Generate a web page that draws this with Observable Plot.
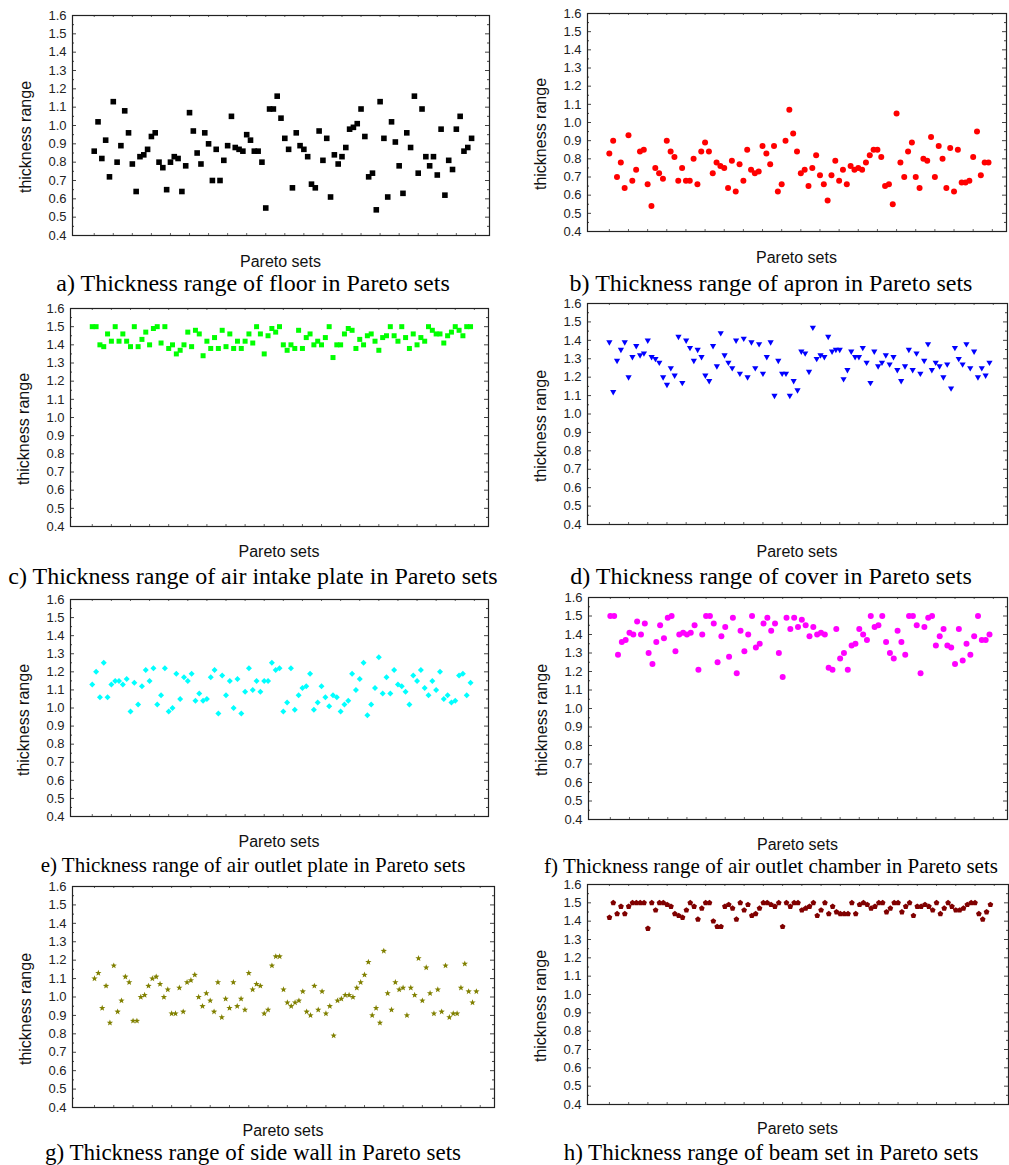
<!DOCTYPE html>
<html>
<head>
<meta charset="utf-8">
<script src="https://cdn.jsdelivr.net/npm/d3@7"></script>
<script src="https://cdn.jsdelivr.net/npm/@observablehq/plot@0.6"></script>
<style>
  body { margin: 0; background: #fff; }
  #root { position: relative; width: 1009px; height: 1165px; overflow: hidden; background: #fff; }
  .lbl { position: absolute; font-family: Arial, "Liberation Sans", sans-serif; color: #111; white-space: nowrap; line-height: 1; }
  .cap { position: absolute; font-family: "Times New Roman", "Liberation Serif", serif; color: #000; white-space: nowrap; line-height: 1; }
</style>
</head>
<body>
<div id="root"></div>
<script>
// ---------------- data ----------------
const floorValues = [0.86,1.02,0.82,0.92,0.72,1.13,0.80,0.89,1.08,0.96,
  0.79,0.64,0.83,0.84,0.87,0.94,0.96,0.80,0.77,0.65,
  0.80,0.83,0.82,0.64,0.78,1.07,0.97,0.85,0.79,0.96,
  0.90,0.70,0.87,0.70,0.81,0.89,1.05,0.88,0.87,0.86,
  0.95,0.92,0.86,0.86,0.80,0.55,1.09,1.09,1.16,1.04,
  0.93,0.87,0.66,0.96,0.89,0.87,0.83,0.68,0.66,0.97,
  0.81,0.93,0.61,0.84,0.79,0.83,0.88,0.98,0.99,1.01,
  1.09,0.94,0.72,0.74,0.54,1.13,0.93,0.61,1.02,0.91,
  0.78,0.63,0.96,0.88,1.16,0.74,1.09,0.83,0.78,0.83,
  0.73,0.98,0.62,0.81,0.76,0.98,1.05,0.86,0.88,0.93];

const apronValues = [0.83,0.90,0.70,0.78,0.64,0.93,0.68,0.74,0.84,0.85,
  0.66,0.54,0.75,0.72,0.69,0.90,0.84,0.81,0.68,0.75,
  0.68,0.68,0.80,0.66,0.84,0.89,0.84,0.72,0.78,0.76,
  0.75,0.64,0.79,0.62,0.77,0.68,0.85,0.74,0.72,0.73,
  0.87,0.83,0.77,0.87,0.62,0.66,0.90,1.07,0.94,0.84,
  0.72,0.74,0.65,0.75,0.82,0.71,0.66,0.57,0.71,0.79,
  0.68,0.74,0.66,0.76,0.74,0.75,0.74,0.78,0.82,0.85,
  0.85,0.81,0.65,0.66,0.55,1.05,0.78,0.70,0.84,0.89,
  0.70,0.64,0.80,0.79,0.92,0.70,0.87,0.80,0.64,0.86,
  0.62,0.85,0.67,0.67,0.68,0.81,0.95,0.71,0.78,0.78];

const intakePlateValues = [1.50,1.50,1.40,1.39,1.46,1.42,1.50,1.42,1.46,1.42,
  1.39,1.50,1.39,1.43,1.47,1.40,1.49,1.50,1.41,1.50,
  1.38,1.40,1.35,1.37,1.40,1.47,1.39,1.48,1.46,1.34,
  1.42,1.38,1.44,1.38,1.48,1.39,1.46,1.38,1.42,1.38,
  1.42,1.46,1.41,1.50,1.46,1.35,1.45,1.49,1.47,1.50,
  1.40,1.37,1.40,1.38,1.48,1.38,1.44,1.46,1.40,1.42,
  1.40,1.44,1.50,1.33,1.40,1.40,1.46,1.49,1.48,1.38,
  1.43,1.40,1.45,1.46,1.42,1.37,1.44,1.45,1.50,1.45,
  1.42,1.50,1.44,1.38,1.46,1.40,1.44,1.42,1.50,1.48,
  1.46,1.46,1.41,1.45,1.47,1.50,1.48,1.45,1.50,1.50];

const coverValues = [1.39,1.12,1.29,1.35,1.39,1.20,1.31,1.37,1.32,1.33,
  1.40,1.31,1.30,1.28,1.20,1.16,1.25,1.21,1.42,1.17,
  1.40,1.36,1.29,1.35,1.31,1.21,1.18,1.37,1.26,1.44,
  1.32,1.28,1.25,1.40,1.22,1.41,1.20,1.39,1.25,1.38,
  1.22,1.31,1.39,1.10,1.29,1.22,1.22,1.10,1.18,1.13,
  1.34,1.33,1.23,1.47,1.30,1.32,1.31,1.42,1.34,1.35,
  1.35,1.19,1.24,1.34,1.31,1.31,1.36,1.28,1.17,1.34,
  1.26,1.28,1.32,1.27,1.31,1.24,1.18,1.26,1.35,1.24,
  1.33,1.22,1.29,1.38,1.24,1.28,1.26,1.20,1.27,1.14,
  1.36,1.30,1.27,1.38,1.25,1.34,1.20,1.25,1.21,1.28];

const outletPlateValues = [1.13,1.20,1.06,1.25,1.06,1.13,1.15,1.15,1.13,1.16,
  0.98,1.14,1.02,1.12,1.21,1.15,1.22,1.02,1.07,1.22,
  0.98,1.00,1.19,1.05,1.17,1.15,1.19,1.04,1.08,1.04,
  1.05,1.17,1.21,0.97,1.18,1.07,1.15,1.00,1.16,0.97,
  1.09,1.22,1.10,1.15,1.09,1.15,1.15,1.25,1.21,1.22,
  0.98,1.03,1.22,0.99,1.07,1.11,1.12,1.19,0.99,1.03,
  1.12,1.06,1.01,1.07,1.06,0.98,1.02,1.04,1.19,1.10,
  1.16,1.25,0.96,1.02,1.11,1.28,1.08,1.17,1.08,1.21,
  1.13,1.12,1.09,1.02,1.18,1.15,1.21,1.11,1.07,1.15,
  1.10,1.20,1.05,1.07,1.03,1.04,1.18,1.19,1.07,1.14];

const outletChamberValues = [1.50,1.50,1.29,1.36,1.37,1.41,1.40,1.47,1.40,1.46,
  1.30,1.24,1.36,1.45,1.38,1.49,1.50,1.31,1.40,1.41,
  1.40,1.41,1.45,1.21,1.40,1.50,1.50,1.46,1.25,1.39,
  1.44,1.28,1.49,1.19,1.42,1.31,1.40,1.50,1.33,1.35,
  1.46,1.49,1.42,1.46,1.30,1.17,1.49,1.43,1.49,1.44,
  1.48,1.45,1.39,1.44,1.40,1.41,1.40,1.22,1.21,1.43,
  1.27,1.30,1.21,1.34,1.35,1.43,1.40,1.37,1.50,1.44,
  1.45,1.50,1.36,1.30,1.27,1.42,1.36,1.29,1.50,1.50,
  1.45,1.19,1.44,1.49,1.50,1.34,1.39,1.43,1.34,1.33,
  1.24,1.43,1.26,1.35,1.29,1.39,1.50,1.37,1.37,1.40];

const sideWallValues = [1.10,1.13,0.94,1.06,0.86,1.17,0.92,0.98,1.11,1.08,
  0.87,0.87,1.00,1.01,1.06,1.10,1.11,1.07,1.00,1.04,
  0.91,0.91,1.05,0.92,1.08,1.09,1.12,1.00,0.95,1.02,
  0.98,0.92,1.08,0.89,0.99,0.94,1.08,0.95,0.99,0.93,
  1.13,1.04,1.07,1.06,0.91,0.93,1.17,1.22,1.22,1.04,
  0.97,0.95,0.97,0.98,1.03,0.92,0.90,1.06,0.93,1.03,
  0.91,0.95,0.79,0.98,0.99,1.01,1.01,1.00,1.05,1.08,
  1.12,1.19,0.90,0.94,0.86,1.25,1.02,0.93,1.08,1.04,
  1.05,0.90,1.05,1.01,1.21,0.98,1.16,1.02,0.91,1.04,
  0.92,1.17,0.89,0.91,0.91,1.05,1.18,1.03,0.97,1.03];

const beamSetValues = [1.42,1.50,1.44,1.48,1.44,1.48,1.50,1.50,1.50,1.50,
  1.36,1.50,1.46,1.50,1.50,1.49,1.48,1.44,1.43,1.42,
  1.46,1.50,1.48,1.41,1.47,1.50,1.50,1.40,1.37,1.37,
  1.48,1.49,1.47,1.41,1.50,1.46,1.49,1.43,1.44,1.47,
  1.50,1.50,1.49,1.48,1.50,1.37,1.50,1.48,1.50,1.50,
  1.46,1.47,1.48,1.50,1.43,1.46,1.50,1.44,1.48,1.45,
  1.44,1.44,1.44,1.50,1.44,1.49,1.50,1.49,1.47,1.48,
  1.50,1.50,1.45,1.47,1.50,1.50,1.45,1.48,1.50,1.43,
  1.48,1.48,1.49,1.48,1.46,1.50,1.44,1.47,1.50,1.48,
  1.46,1.46,1.47,1.49,1.50,1.50,1.44,1.41,1.45,1.49];

const yTickLabels = [0.4,0.5,0.6,0.7,0.8,0.9,1.0,1.1,1.2,1.3,1.4,1.5,1.6];
const yAxisTitle = "thickness range";
const xAxisTitle = "Pareto sets";
const captionTexts = [
  "a) Thickness range of floor in Pareto sets",
  "b) Thickness range of apron in Pareto sets",
  "c) Thickness range of air intake plate in Pareto sets",
  "d) Thickness range of cover in Pareto sets",
  "e) Thickness range of air outlet plate in Pareto sets",
  "f) Thickness range of air outlet chamber in Pareto sets",
  "g) Thickness range of side wall in Pareto sets",
  "h) Thickness range of beam set in Pareto sets"
];

// ---------------- symbols ----------------
const symSquare = { draw(c, size) { const h = Math.sqrt(size / Math.PI); c.moveTo(-h, -h); c.lineTo(h, -h); c.lineTo(h, h); c.lineTo(-h, h); c.closePath(); } };
const symCircle = { draw(c, size) { const r = Math.sqrt(size / Math.PI); c.moveTo(r, 0); c.arc(0, 0, r, 0, 2 * Math.PI); c.closePath(); } };
const symTriDown = { draw(c, size) { const R = Math.sqrt(size / Math.PI); const a = R * Math.cos(Math.PI / 6); c.moveTo(-a, -R / 2); c.lineTo(a, -R / 2); c.lineTo(0, R); c.closePath(); } };
const symDiamond = { draw(c, size) { const R = Math.sqrt(size / Math.PI); c.moveTo(0, -R); c.lineTo(R, 0); c.lineTo(0, R); c.lineTo(-R, 0); c.closePath(); } };
const symStar = { draw(c, size) { const R = Math.sqrt(size / Math.PI), r2 = R * 0.42;
  for (let i = 0; i < 10; i++) { const ang = -Math.PI / 2 + i * Math.PI / 5; const rr = i % 2 ? r2 : R;
    const px = rr * Math.cos(ang), py = rr * Math.sin(ang); if (i) c.lineTo(px, py); else c.moveTo(px, py); }
  c.closePath(); } };
const symPentagon = { draw(c, size) { const R = Math.sqrt(size / Math.PI);
  for (let i = 0; i < 5; i++) { const ang = -Math.PI / 2 + i * 2 * Math.PI / 5; const px = R * Math.cos(ang), py = R * Math.sin(ang);
    if (i) c.lineTo(px, py); else c.moveTo(px, py); }
  c.closePath(); } };

// ---------------- layout ----------------
const panels = [
  { values: floorValues,         color: "#000000", symbol: symSquare,   r: 2.8, col: 0, L: 72,  R: 489,  T: 15,  B: 235,  xlOff: 27, capY: 283,  capSize: 24 },
  { values: apronValues,         color: "#ff0000", symbol: symCircle,   r: 3.0, col: 1, L: 587, R: 1006, T: 13,  B: 231,  xlOff: 27, capY: 283,  capSize: 24 },
  { values: intakePlateValues,   color: "#00ff00", symbol: symSquare,   r: 2.5, col: 0, L: 70,  R: 488,  T: 308, B: 526,  xlOff: 26, capY: 576,  capSize: 24 },
  { values: coverValues,         color: "#0000ff", symbol: symTriDown,  r: 3.6, col: 1, L: 587, R: 1007, T: 303, B: 524,  xlOff: 28, capY: 576,  capSize: 24 },
  { values: outletPlateValues,   color: "#00ffff", symbol: symDiamond,  r: 3.0, col: 0, L: 70,  R: 488,  T: 599, B: 816,  xlOff: 26, capY: 865,  capSize: 21 },
  { values: outletChamberValues, color: "#ff00ff", symbol: symCircle,   r: 3.0, col: 1, L: 588, R: 1007, T: 597, B: 819,  xlOff: 26, capY: 866,  capSize: 21 },
  { values: sideWallValues,      color: "#808000", symbol: symStar,     r: 3.3, col: 0, L: 72,  R: 494,  T: 886, B: 1107, xlOff: 24, capY: 1152, capSize: 23 },
  { values: beamSetValues,       color: "#800000", symbol: symPentagon, r: 3.0, col: 1, L: 587, R: 1008, T: 884, B: 1104, xlOff: 25, capY: 1152, capSize: 23 }
];
const colX = [0, 510];
const capCenterX = [253, 771];
const xDomain = [-4.7, 104.7];
const xTicks = d3.range(1, 105, 5);
const yMinorTicks = yTickLabels.slice(0, -1).map(v => v + 0.05);

const root = document.getElementById("root");
function addText(cls, text, x, y, size, rotate) {
  const el = document.createElement("div");
  el.className = cls;
  el.textContent = text;
  el.style.left = x + "px";
  el.style.top = y + "px";
  el.style.fontSize = size + "px";
  el.style.transform = "translate(-50%,-50%)" + (rotate ? " rotate(-90deg)" : "");
  root.appendChild(el);
}

panels.forEach((p, k) => {
  const x0 = colX[p.col];
  const mt = 6, mb = 6, mr = 4;
  const W = p.R - p.L, H = p.B - p.T;
  const chart = Plot.plot({
    width: p.R - x0 + mr,
    height: H + mt + mb,
    marginLeft: p.L - x0, marginRight: mr, marginTop: mt, marginBottom: mb,
    style: { fontFamily: "Arial, 'Liberation Sans', sans-serif", fontSize: "13px", color: "#222", background: "transparent", overflow: "visible" },
    x: { domain: xDomain, axis: null },
    y: { domain: [0.4, 1.6], ticks: yTickLabels, tickSize: 0, tickPadding: 6, tickFormat: d => d.toFixed(1), label: null },
    marks: [
      Plot.ruleY(yTickLabels, { y: d => d, insetRight: W - 4, stroke: "#444" }),
      Plot.ruleY(yTickLabels, { y: d => d, insetLeft: W - 4, stroke: "#444" }),
      Plot.ruleY(yMinorTicks, { y: d => d, insetRight: W - 2, stroke: "#444" }),
      Plot.ruleY(yMinorTicks, { y: d => d, insetLeft: W - 2, stroke: "#444" }),
      Plot.ruleX(xTicks, { x: d => d, insetTop: H - 2, stroke: "#666" }),
      Plot.ruleX(xTicks, { x: d => d, insetBottom: H - 2, stroke: "#666" }),
      Plot.dot(p.values, { x: (d, i) => i + 1, y: d => d, symbol: p.symbol, r: p.r, fill: p.color, stroke: "none" }),
      Plot.frame({ stroke: "#222", strokeWidth: 1.2 })
    ]
  });
  chart.style.position = "absolute";
  chart.style.left = x0 + "px";
  chart.style.top = (p.T - mt) + "px";
  root.appendChild(chart);

  addText("lbl", yAxisTitle, p.L - 46, (p.T + p.B) / 2 + 12, 16, true);
  addText("lbl", xAxisTitle, (p.L + p.R) / 2, p.B + p.xlOff, 16, false);
  addText("cap", captionTexts[k], capCenterX[p.col], p.capY, p.capSize, false);
});
</script>
</body>
</html>
